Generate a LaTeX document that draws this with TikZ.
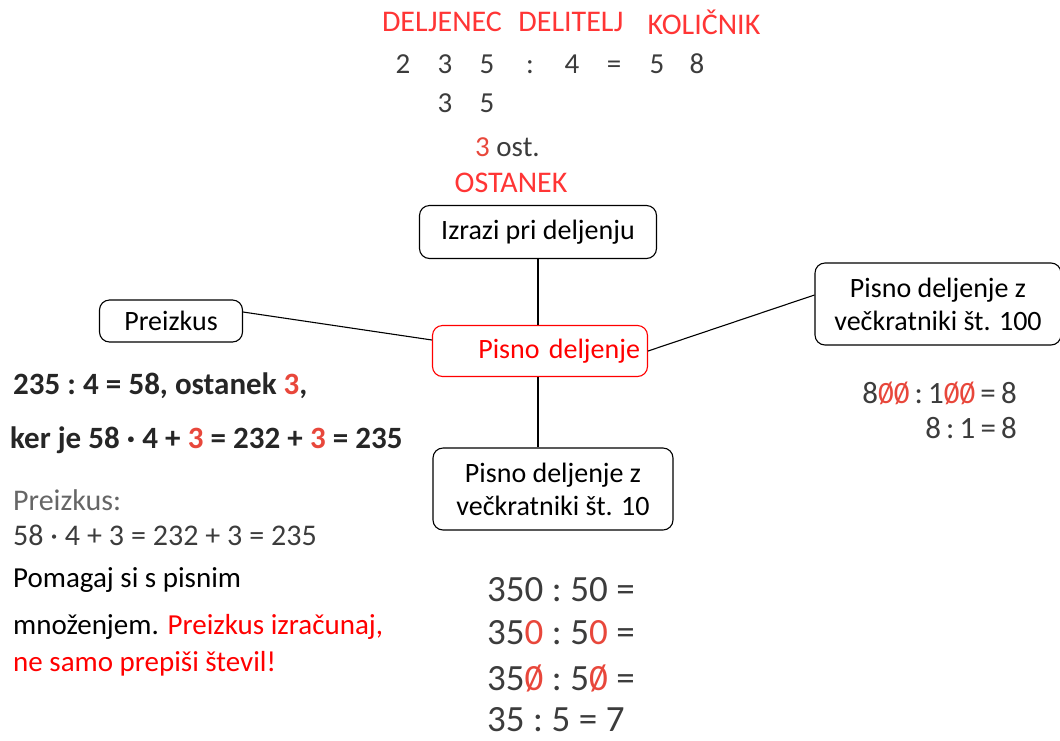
\documentclass[tikz,border=0pt]{standalone}
\usepackage{fontspec}
\setmainfont{Carlito}
\usepackage{xcolor}
\usepackage{tikz}

\definecolor{hdred}{HTML}{FF3535}
\definecolor{bkred}{HTML}{E8473B}
\definecolor{bkgray}{HTML}{3C3C3C}
\newcommand{\crossz}{\ooalign{0\cr\hidewidth/\hidewidth\cr}}
\newcommand{\gp}{\hspace{0.23em}}

\begin{document}
\begin{tikzpicture}[x=1pt, y=-1pt,
    bubble/.style={draw, rounded corners=10pt, line width=1.1pt, inner sep=0pt,
      font=\fontsize{28}{33}\selectfont, align=center},
    head/.style={text=hdred, font=\fontsize{30}{34}\selectfont},
    digit/.style={anchor=base, text=bkgray, font=\fontsize{29}{33}\selectfont},
    note/.style={anchor=west, inner sep=0pt, font=\fontsize{29}{34}\selectfont},
    book/.style={anchor=west, inner sep=0pt, text=bkgray, font=\fontsize{30}{34}\selectfont},
    heavy/.style={book, text=black!85, font=\bfseries\fontsize{31}{36}\selectfont},
    sum/.style={anchor=west, inner sep=0pt, text=bkgray, font=\fontsize{37}{40}\selectfont}]
            \useasboundingbox (0, 0) rectangle (1060, 740);

            % names of the parts
            \node[head] (deljenec) at (442, 22) {DELJENEC};
            \node[head] (delitelj) at (571, 22) {DELITELJ};
            \node[head] (kolicnik) at (704, 22) {KOLIČNIK};

            \node[digit] (a1) at (403, 73) {2};
            \node[digit] (a2) at (445, 73) {3};
            \node[digit] (a3) at (487, 73) {5};
            \node[digit] (a4) at (530, 73) {:};
            \node[digit] (a5) at (572, 73) {4};
            \node[digit] (a6) at (614, 73) {=};
            \node[digit] (a7) at (657, 73) {5};
            \node[digit] (a8) at (697, 73) {8};
            \node[digit] (b2) at (445, 112) {3};
            \node[digit] (b3) at (487, 112) {5};
            \node[digit, anchor=west, inner sep=0pt] (ost) at (475, 147) {{\color{bkred}3} ost.};
            \node[head] (ostanek) at (511, 183) {OSTANEK};

            % the map
            \node[bubble, minimum width=237, minimum height=53] (izrazi) at (538, 232) {Izrazi pri deljenju};
            \node[bubble, minimum width=143, minimum height=42] (preizkus) at (171, 321) {Preizkus};
            \node[bubble, draw=red, text=red, minimum width=215, minimum height=51,
                  text width=200, align=right] (pisno) at (540, 351) {Pisno deljenje};
            \node[bubble, minimum width=246, minimum height=82] (sto) at (938, 304) {Pisno deljenje z\\večkratniki št. 100};
            \node[bubble, minimum width=240, minimum height=82] (deset) at (553, 489) {Pisno deljenje z\\večkratniki št. 10};

            \draw[line width=1.1pt] (izrazi.south) -- (izrazi.south |- pisno.north);
            \draw[line width=1.1pt] ([yshift=9pt]preizkus.east) -- ([yshift=11pt]pisno.west);
            \draw[line width=1.1pt] (pisno.east) -- ([yshift=9pt]sto.west);
            \draw[line width=1.1pt] (izrazi.south |- pisno.south) -- (izrazi.south |- deset.north);

            % preizkus
            \node[heavy] (prv) at (13, 386)
                {235\gp:\gp4\gp=\gp58, ostanek {\color{bkred}3},};
            \node[heavy] (drg) at (10, 440)
                {ker je 58\gp·\gp4\gp+\gp{\color{bkred}3}\gp=\gp232\gp+\gp{\color{bkred}3}\gp=\gp235};
            \node[book, text=black!60] (pzk) at (13, 500) {Preizkus:};
            \node[book] (racun) at (13, 535) {58\gp·\gp4\gp+\gp3\gp=\gp232\gp+\gp3\gp=\gp235};
            \node[note] (pom1) at (13, 580) {Pomagaj si s pisnim};
            \node[note] (pom2) at (13, 627) {množenjem. {\color{red}Preizkus izračunaj,}};
            \node[note, text=red] (pom3) at (13, 664) {ne samo prepiši števil!};

            % z veckratniki st. 100
            \node[book, anchor=east, font=\fontsize{31}{36}\selectfont] (st1) at (1017, 394)
                {8{\color{bkred}\crossz\crossz}\,:\,1{\color{bkred}\crossz\crossz}\,=\,8};
            \node[book, anchor=east, font=\fontsize{31}{36}\selectfont] (st2) at (1017, 428) {8\,:\,1\,=\,8};

            % z veckratniki st. 10
            \node[sum] (d1) at (487, 590) {350\gp:\gp50\gp=};
            \node[sum] (d2) at (487, 633) {35{\color{bkred}0}\gp:\gp5{\color{bkred}0}\gp=};
            \node[sum] (d3) at (487, 679) {35{\color{bkred}\crossz}\gp:\gp5{\color{bkred}\crossz}\gp=};
            \node[sum] (d4) at (487, 720) {35\gp:\gp5\gp=\gp7};
        \end{tikzpicture}
\end{document}
